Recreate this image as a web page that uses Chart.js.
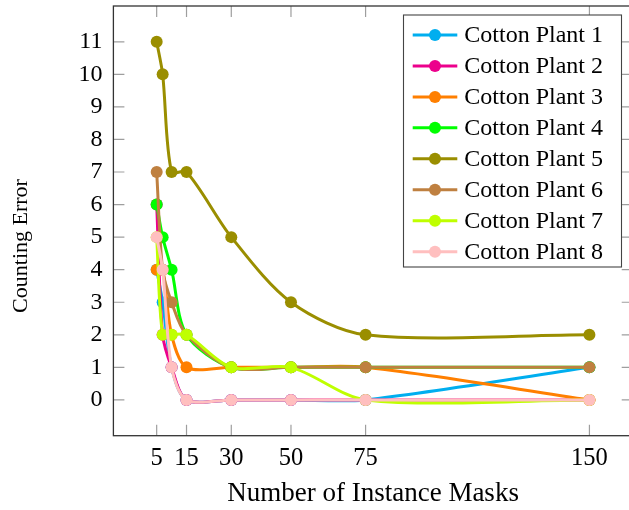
<!DOCTYPE html>
<html>
<head>
<meta charset="utf-8">
<script src="https://cdn.jsdelivr.net/npm/chart.js@4/dist/chart.umd.min.js"></script>
<style>
  html, body { margin: 0; padding: 0; background: #fff; overflow: hidden; }
  #wrap { width: 629px; height: 510px; overflow: hidden; position: relative; }
  canvas { display: block; }
</style>
</head>
<body>
<div id="wrap"><canvas id="c" width="640" height="510"></canvas></div>
<script>
// ---- data ----
const masks = [5, 7, 10, 15, 30, 50, 75, 150];
const xTicks = [5, 15, 30, 50, 75, 150];
const yTicks = [0, 1, 2, 3, 4, 5, 6, 7, 8, 9, 10, 11];
const seriesNames = ['Cotton Plant 1', 'Cotton Plant 2', 'Cotton Plant 3', 'Cotton Plant 4',
                     'Cotton Plant 5', 'Cotton Plant 6', 'Cotton Plant 7', 'Cotton Plant 8'];
const plant1 = [4, 3, 1, 0, 0, 0, 0, 1];
const plant2 = [6, 2, 1, 0, 0, 0, 0, 0];
const plant3 = [4, 4, 2, 1, 1, 1, 1, 0];
const plant4 = [6, 5, 4, 2, 1, 1, 1, 1];
const plant5 = [11, 10, 7, 7, 5, 3, 2, 2];
const plant6 = [7, 4, 3, 2, 1, 1, 1, 1];
const plant7 = [5, 2, 2, 2, 1, 1, 0, 0];
const plant8 = [5, 4, 1, 0, 0, 0, 0, 0];
const seriesValues = [plant1, plant2, plant3, plant4, plant5, plant6, plant7, plant8];
const colors = ['#00aeef', '#ec008c', '#ff7f00', '#00ff00', '#9a8e00', '#bf8040', '#bfff00', '#ffbfbf'];
const xTitle = 'Number of Instance Masks';
const yTitle = 'Counting Error';

const FONT = "'Liberation Serif', 'Times New Roman', serif";

const datasets = seriesValues.map((vals, i) => ({
  label: seriesNames[i],
  data: masks.map((m, j) => ({ x: m, y: vals[j] })),
  borderColor: colors[i],
  backgroundColor: colors[i],
  pointBackgroundColor: colors[i],
  pointBorderColor: colors[i],
  pointRadius: 6,
  pointBorderWidth: 0,
  borderWidth: 3,
  tension: 0.3,
  fill: false,
  order: seriesValues.length - i
}));

const framePlugin = {
  id: 'frame',
  afterDatasetsDraw(chart) {
    const ctx = chart.ctx;
    const a = chart.chartArea;
    const xs = chart.scales.x, ys = chart.scales.y;
    ctx.save();
    // inward tick marks
    ctx.strokeStyle = 'rgba(0,0,0,0.38)';
    ctx.lineWidth = 1.2;
    const tl = 11;
    ctx.beginPath();
    xTicks.forEach(v => {
      const px = xs.getPixelForValue(v);
      ctx.moveTo(px, a.bottom); ctx.lineTo(px, a.bottom - tl);
      ctx.moveTo(px, a.top); ctx.lineTo(px, a.top + tl);
    });
    yTicks.forEach(v => {
      const py = ys.getPixelForValue(v);
      ctx.moveTo(a.left, py); ctx.lineTo(a.left + tl, py);
      ctx.moveTo(a.right, py); ctx.lineTo(a.right - tl, py);
    });
    ctx.stroke();
    // frame
    ctx.strokeStyle = '#333';
    ctx.lineWidth = 1.3;
    ctx.strokeRect(a.left, a.top, a.right - a.left, a.bottom - a.top);
    ctx.restore();
  },
  afterDraw(chart) {
    const ctx = chart.ctx;
    ctx.save();
    // y axis title
    ctx.translate(21, 246);
    ctx.rotate(-Math.PI / 2);
    ctx.fillStyle = '#000';
    ctx.font = "22px " + FONT;
    ctx.textAlign = 'center';
    ctx.textBaseline = 'middle';
    ctx.fillText(yTitle, 0, 0);
    ctx.restore();

    ctx.save();
    // legend box
    const bx = 403.5, by = 15, bw = 218, bh = 252;
    ctx.fillStyle = '#fff';
    ctx.fillRect(bx, by, bw, bh);
    ctx.strokeStyle = '#444';
    ctx.lineWidth = 1.1;
    ctx.strokeRect(bx, by, bw, bh);
    chart.data.datasets.forEach((ds, i) => {
      const cy = 35 + i * 30.95;
      ctx.strokeStyle = ds.borderColor;
      ctx.lineWidth = 3;
      ctx.beginPath();
      ctx.moveTo(412.7, cy); ctx.lineTo(457.3, cy);
      ctx.stroke();
      ctx.fillStyle = ds.borderColor;
      ctx.beginPath();
      ctx.arc(435, cy, 6, 0, Math.PI * 2);
      ctx.fill();
      ctx.fillStyle = '#000';
      ctx.font = "24px " + FONT;
      ctx.textAlign = 'left';
      ctx.textBaseline = 'middle';
      ctx.fillText(ds.label, 464.3, cy + 1);
    });
    ctx.restore();
  }
};

new Chart(document.getElementById('c'), {
  type: 'line',
  data: { datasets },
  plugins: [framePlugin],
  options: {
    responsive: false,
    animation: false,
    events: [],
    layout: { padding: { left: 0, top: 5.5, right: 7.3, bottom: 0 } },
    plugins: { legend: { display: false }, tooltip: { enabled: false } },
    scales: {
      x: {
        type: 'linear',
        min: -9.5,
        max: 164.5,
        afterBuildTicks(scale) { scale.ticks = xTicks.map(v => ({ value: v })); },
        afterFit(scale) { scale.height = 74.3; scale.paddingLeft = 0; scale.paddingRight = 0; },
        grid: { display: false, drawTicks: false },
        border: { display: false },
        ticks: { color: '#000', font: { family: FONT, size: 24.5 }, padding: 8, maxRotation: 0, autoSkip: false },
        title: { display: true, text: xTitle, color: '#000',
                 font: { family: FONT, size: 27 }, padding: { top: 4, bottom: 0 } }
      },
      y: {
        type: 'linear',
        min: -1.1,
        max: 12.1,
        afterBuildTicks(scale) { scale.ticks = yTicks.map(v => ({ value: v })); },
        afterFit(scale) { scale.width = 113.4; scale.paddingTop = 0; scale.paddingBottom = 0; },
        grid: { display: false, drawTicks: false },
        border: { display: false },
        ticks: { color: '#000', font: { family: FONT, size: 24 }, padding: 11, autoSkip: false },
        title: { display: false, text: yTitle }
      }
    }
  }
});
</script>
</body>
</html>
